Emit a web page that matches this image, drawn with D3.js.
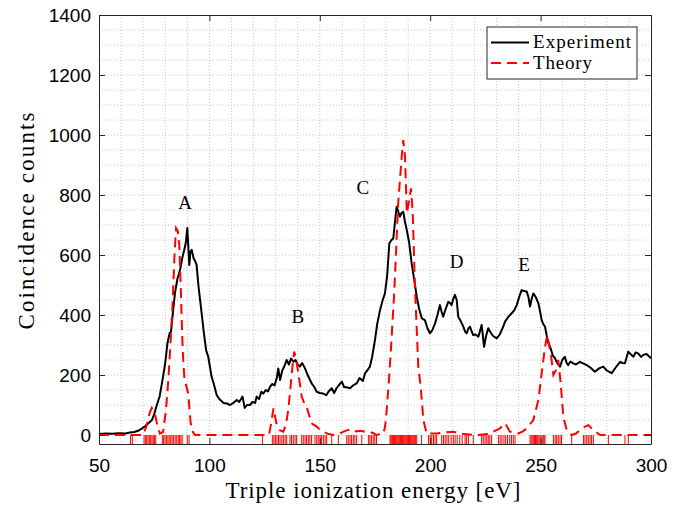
<!DOCTYPE html>
<html lang="en">
<meta charset="utf-8">
<head>
    <script src="https://d3js.org/d3.v7.min.js"></script>
    <style>
        body { margin: 0; background: #fff; }
        .tick text { font-family: "Liberation Sans", Arial, sans-serif; font-size: 19px; fill: #000; }
        .lbl { font-family: "Liberation Serif", "Times New Roman", serif; fill: #000; }
    </style>
</head>
<body>
<div id="chart"></div>
<script>
// Experiment: triple ionization energy (eV) and coincidence counts
const expE = [50, 53, 56, 59, 62, 64, 66, 68, 69.5, 71, 72.5, 74, 75, 76, 77.5, 78.5, 80, 81, 82, 82.6,
    83.5, 84.4, 85.5, 86.7, 87.7, 88.6, 89.3, 90, 90.9, 91.4, 92, 92.8, 93.5, 94.2, 95, 96.5, 97.5, 98.5,
    99.5, 101, 102, 103.3, 104.5, 106.3, 108, 109.3, 110.5, 112.4, 113.5, 115, 116, 117, 118.4, 119.5,
    120.7, 121.4, 122.5, 123.5, 124.4, 125.5, 126.5, 127.5, 128.5, 129.5, 130.5, 131.2, 132, 133, 134,
    135, 136, 137, 138, 139, 140, 141, 142, 143.3, 144.5, 145.5, 146.3, 147.5, 148.6, 150, 151.5, 153,
    154, 155.4, 156.5, 157.5, 158.5, 160, 161, 162.5, 163.7, 165, 166.7, 168, 169.5, 170.5, 171.5, 172.7,
    173.7, 175, 176, 177.3, 178.5, 179.5, 180.5, 181.5, 182.5, 183.3, 184.2, 184.8, 185.5, 186.3, 187,
    187.8, 188.6, 189.4, 190.5, 191.6, 192.7, 193.9, 195, 196.2, 197.6, 198.8, 199.9, 201, 202.2, 203.3,
    204.4, 205.2, 205.9, 207, 208.2, 209, 209.7, 210.5, 211.2, 212, 212.7, 213.8, 215, 215.8, 216.5,
    217.3, 218, 218.8, 219.5, 220.5, 221.8, 222.5, 223.3, 224.4, 225.3, 226.3, 227.5, 228.5, 230.1,
    231.5, 233, 233.9, 235.5, 236.9, 238, 239.2, 240.3, 241.4, 242.5, 243.7, 244.5, 245.2, 246, 246.7,
    247.8, 249, 249.8, 250.5, 251.2, 252, 252.8, 253.5, 254.5, 255.5, 256.5, 257.5, 258.8, 259.8, 261,
    261.8, 262.5, 263.5, 264.8, 266, 267.8, 269.5, 270.9, 272.5, 274.6, 276.5, 278.4, 280, 282.2, 284,
    286, 287, 288.2, 289.7, 291, 292, 293, 294.2, 295.5, 296.5, 298, 300];
const expCounts = [3, 5, 4, 6, 5, 8, 10, 15, 22, 30, 40, 50, 70, 95, 130, 172, 240, 306, 340, 344,
    410, 473, 520, 550, 590, 617, 640, 690, 567, 610, 617, 590, 580, 567, 500, 405, 340, 283,
    260, 194, 170, 133, 120, 107, 105, 100, 105, 117, 110, 128, 90, 100, 100, 110,
    107, 128, 120, 144, 138, 150, 145, 161, 170, 165, 190, 222, 183, 215, 230,
    250, 235, 255, 244, 250, 235, 228, 240, 222, 200, 185, 172, 160, 144, 140, 138, 133,
    145, 156, 140, 155, 165, 178, 160, 158, 156, 165, 172, 190, 180, 206, 215, 228,
    260, 317, 370, 417, 450, 472, 530, 639, 650, 656, 720, 761, 745, 728, 740,
    744, 710, 683, 640, 572, 520, 461, 420, 389, 383, 355, 339, 350, 372, 400,
    433, 410, 394, 420, 444, 440, 433, 455, 467, 450, 394, 380, 361, 345, 339,
    355, 361, 345, 333, 335, 328, 345, 367, 294, 330, 356, 340, 330, 322,
    335, 360, 378, 395, 406, 415, 433, 460, 483, 480, 478, 460, 428, 455, 472,
    460, 439, 410, 383, 370, 361, 330, 306, 290, 265, 256, 240, 228, 250, 261,
    240, 233, 245, 239, 235, 244, 238, 233, 225, 211, 222, 228, 215, 206, 225,
    244, 240, 239, 278, 268, 261, 275, 272, 260, 267, 270, 256];

// Theory: broadened spectrum
const thE = [50, 70, 71.5, 73, 73.9, 75.4, 76.5, 77.6, 79, 80.3, 81.4, 82.5, 83.4, 84.2, 84.9, 85.7,
    86.4, 87.2, 87.9, 88.7, 89.4, 90.4, 91.5, 92.5, 93.5, 127, 128, 129, 130.5, 132, 133.5, 134.8,
    135.7, 136.5, 137.3, 138.4, 139.3, 140.3, 141.8, 143, 144, 145, 146.3, 148.6, 150, 151.6, 154,
    156.1, 159, 161, 162.9, 165, 166.5, 168.2, 170, 172.7, 174.5, 175.5, 178.8, 179.6, 180.3, 181.2,
    182.1, 183.6, 184.6, 185.5, 187.1, 187.8, 188.6, 189.4, 190.5, 191.3, 192.1, 193.1, 194.6, 195.7,
    196.9, 198.4, 203, 207.4, 210.4, 215, 221, 226, 228.6, 231.6, 233.9, 236.1, 239.9, 242, 243.7,
    246.7, 249, 250.5, 252, 253, 254.6, 255.8, 257, 258, 259.1, 260.3, 261.8, 264.1, 266, 267.9,
    270.1, 271.6, 273.9, 276.9, 300];
const thCounts = [0, 0, 30, 75, 90, 67, 30, 5, 10, 80, 183, 320, 450, 600, 690, 680,
    628, 450, 283, 185, 167, 139, 40, 10, 0, 0, 40, 89, 33, 15, 11, 40,
    83, 140, 206, 278, 250, 206, 128, 105, 95, 70, 39, 28, 18, 11, 3,
    0, 5, 12, 17, 18, 12, 14, 12, 11, 5, 0, 5, 30, 83, 170,
    272, 461, 620, 772, 928, 983, 928, 739, 783, 822, 739, 494, 228, 161,
    50, 5, 5, 9, 11, 3, 0, 3, 11, 22, 39, 11, 5, 12, 22,
    50, 117, 206, 294, 333, 272, 200, 217, 250, 172, 61, 17, 0, 5, 17,
    28, 33, 17, 0, 0];

// Theory: individual state energies (stick markers along the axis)
const stickE = [64.3, 65.1, 70.4, 71, 71.6, 72.2, 72.8, 73.4, 74, 74.6, 75.1, 75.7, 78.7, 79.3, 79.9,
    80.5, 81.2, 81.8, 82.5, 83.1, 83.8, 84.5, 85.2, 85.9, 86.5, 87.1, 87.7, 90, 90.8, 124, 128.5,
    129.2, 129.9, 130.6, 131.3, 132, 132.8, 133.5, 134.3, 135, 136.5, 137.2, 138, 138.8, 139.5, 141.8,
    142.5, 143.3, 144, 144.8, 145.5, 146.3, 147.8, 148.6, 149.3, 150.1, 150.8, 151.6, 152.4, 153.1,
    155.4, 158.4, 162.2, 162.9, 163.7, 164.4, 165.2, 165.9, 166.7, 169, 172, 172.7, 173.4, 174.2,
    174.9, 175.7, 181.8, 182.2, 182.6, 183, 183.4, 183.8, 184.2, 184.6, 185, 185.4, 185.8, 186.2,
    186.6, 187, 187.4, 187.8, 188.2, 188.6, 189, 189.4, 189.8, 190.2, 190.6, 191, 191.4, 191.8,
    192.2, 192.6, 193, 193.4, 193.9, 196.1, 199.2, 200, 200.7, 201.5, 202.2, 202.9, 205.2, 206,
    206.8, 207.6, 208.4, 209.5, 210.5, 211.3, 212.2, 213.4, 214.5, 215.8, 216.5, 217.3, 219.5, 223.3,
    224, 224.8, 225.6, 226.3, 227, 227.8, 230.9, 231.7, 232.5, 233.4, 234.2, 235, 236, 236.8, 237.6,
    238.4, 245.2, 245.7, 246.2, 246.7, 247.2, 247.7, 248.2, 248.7, 249.2, 249.7, 250.2, 250.7, 251.2,
    251.6, 252, 255.8, 256.6, 257.3, 258, 258.8, 259.5, 264.1, 269.4, 270.1, 270.9, 271.6, 272.4,
    273.1, 273.9, 280.7, 288.2, 289.7];

// Peak annotations
const peakNames = ["A", "B", "C", "D", "E"];
const peakE = [89, 140, 169.5, 212, 242.5];
const peakCounts = [777, 397, 827, 580, 570];

const xTicks = [50, 100, 150, 200, 250, 300];
const yTicks = [0, 200, 400, 600, 800, 1000, 1200, 1400];

const W = 685, H = 506;
const margin = { left: 99, top: 15, right: 34, bottom: 62 };
const w = W - margin.left - margin.right;
const h = H - margin.top - margin.bottom;

const svg = d3.select("#chart").append("svg")
    .attr("width", W).attr("height", H)
    .append("g")
    .attr("transform", `translate(${margin.left},${margin.top})`);

const x = d3.scaleLinear().domain([50, 300]).range([0, w]);
const y = d3.scaleLinear().domain([-30, 1400]).range([h, 0]);

// dotted grid, every 10 eV and every 50 counts
const grid = svg.append("g").attr("stroke", "#c8c8c8").attr("stroke-width", 1).attr("stroke-dasharray", "1,2");
grid.selectAll(".gx").data(x.ticks(25).slice(1, -1)).join("line")
    .attr("x1", d => x(d)).attr("x2", d => x(d)).attr("y1", 0).attr("y2", h);
grid.selectAll(".gy").data(d3.range(0, 1401, 50).slice(0, -1)).join("line")
    .attr("x1", 0).attr("x2", w).attr("y1", d => y(d)).attr("y2", d => y(d));

// stick markers
svg.append("g").selectAll("line").data(stickE).join("line")
    .attr("x1", d => x(d)).attr("x2", d => x(d))
    .attr("y1", y(0)).attr("y2", h)
    .attr("stroke", "#ff0000").attr("stroke-width", 1);

const expData = expE.map((e, i) => ({ e: e, c: expCounts[i] }));
const thData = thE.map((e, i) => ({ e: e, c: thCounts[i] }));
const line = d3.line().x(d => x(d.e)).y(d => y(d.c));

svg.append("path").datum(expData)
    .attr("fill", "none").attr("stroke", "#000").attr("stroke-width", 2)
    .attr("stroke-linejoin", "round")
    .attr("d", line);

svg.append("path").datum(thData)
    .attr("fill", "none").attr("stroke", "#ff0000").attr("stroke-width", 2)
    .attr("stroke-dasharray", "10,6")
    .attr("d", line);

// axes with inward ticks on all four sides
const axCol = "#262626";
const ax = (g) => { g.select(".domain").attr("stroke", axCol); g.selectAll(".tick line").attr("stroke", axCol); };
svg.append("g").attr("transform", `translate(0,${h})`)
    .call(d3.axisBottom(x).tickValues(xTicks).tickSizeInner(-6).tickSizeOuter(0).tickPadding(15).tickFormat(d3.format("d"))).call(ax);
svg.append("g")
    .call(d3.axisTop(x).tickValues(xTicks).tickSizeInner(-6).tickSizeOuter(0).tickFormat("")).call(ax);
svg.append("g")
    .call(d3.axisLeft(y).tickValues(yTicks).tickSizeInner(-6).tickSizeOuter(0).tickPadding(8).tickFormat(d3.format("d"))).call(ax);
svg.append("g").attr("transform", `translate(${w},0)`)
    .call(d3.axisRight(y).tickValues(yTicks).tickSizeInner(-6).tickSizeOuter(0).tickFormat("")).call(ax);

// peak letters
svg.append("g").selectAll("text").data(peakNames).join("text")
    .attr("class", "lbl")
    .attr("x", (d, i) => x(peakE[i])).attr("y", (d, i) => y(peakCounts[i]))
    .attr("dy", "0.35em").attr("text-anchor", "middle")
    .attr("font-size", 19).text(d => d);

// axis titles
svg.append("text").attr("class", "lbl")
    .attr("x", w / 2 - 2).attr("y", h + 54)
    .attr("text-anchor", "middle").attr("font-size", 23)
    .attr("textLength", 295).attr("lengthAdjust", "spacing")
    .text("Triple ionization energy [eV]");
svg.append("text").attr("class", "lbl")
    .attr("transform", `translate(-65,${206})rotate(-90)`)
    .attr("text-anchor", "middle").attr("font-size", 23)
    .attr("textLength", 217).attr("lengthAdjust", "spacing")
    .text("Coincidence counts");

// legend
const lg = svg.append("g").attr("transform", `translate(${487 - margin.left},${27 - margin.top})`);
lg.append("rect").attr("width", 150).attr("height", 52)
    .attr("fill", "#fff").attr("stroke", axCol).attr("stroke-width", 1);
const legendItems = [
    { name: "Experiment", color: "#000", dash: null, len: 98 },
    { name: "Theory", color: "#ff0000", dash: "10,6", len: 59 }
];
legendItems.forEach((d, i) => {
    const yy = 15.5 + i * 20.5;
    lg.append("line").attr("x1", 4).attr("x2", 42).attr("y1", yy).attr("y2", yy)
        .attr("stroke", d.color).attr("stroke-width", 2)
        .attr("stroke-dasharray", d.dash);
    lg.append("text").attr("class", "lbl").attr("x", 46).attr("y", yy + 5.5)
        .attr("font-size", 19).attr("textLength", d.len).attr("lengthAdjust", "spacing")
        .text(d.name);
});
</script>
</body>
</html>
